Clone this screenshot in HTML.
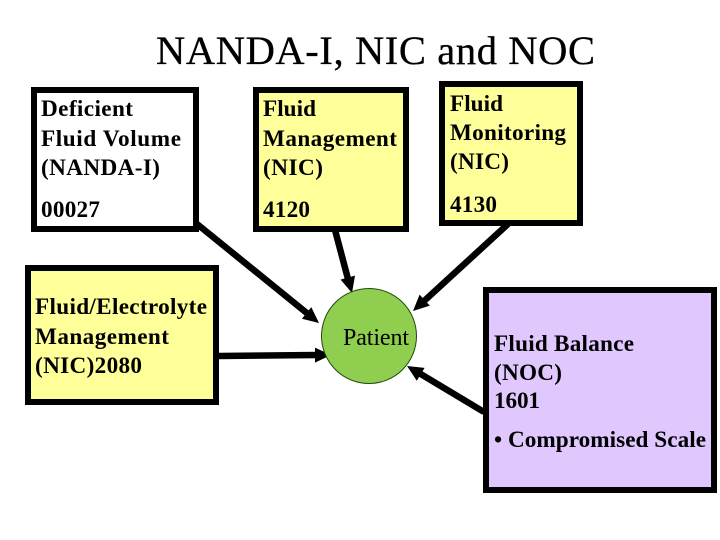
<!DOCTYPE html>
<html>
<head>
<meta charset="utf-8">
<style>
html,body{margin:0;padding:0;background:#fff}
svg{display:block}
text{font-family:"Liberation Serif",serif;fill:#000}
.b{font-weight:bold;font-size:23.2px}
</style>
</head>
<body>
<svg width="720" height="540" viewBox="0 0 720 540" xmlns="http://www.w3.org/2000/svg">
<rect width="720" height="540" fill="#fff"/>
<text x="156" y="64" font-size="40.5" stroke="#000" stroke-width="0.3" textLength="439" lengthAdjust="spacing">NANDA-I, NIC and NOC</text>

<g stroke="#000" stroke-width="6.5">
<line x1="197" y1="224" x2="308" y2="314"/>
<line x1="335" y1="230" x2="348" y2="279"/>
<line x1="508" y1="224" x2="423" y2="302"/>
<line x1="219" y1="356" x2="317" y2="355"/>
<line x1="484" y1="412" x2="419" y2="373"/>
</g>
<g fill="#000">
<polygon points="319,323 301.900,318.700 311.300,307.100"/>
<polygon points="352,293 340.600,279.600 355,275.600"/>
<polygon points="413,311 429.800,305.600 419.600,294.600"/>
<polygon points="331,355 315,347.600 315,362.600"/>
<polygon points="407,366 424.600,367.900 416.800,380.700"/>
</g>
<g stroke="#000" stroke-width="6">
<rect x="34" y="90" width="162" height="139" fill="#fff"/>
<rect x="256" y="90" width="150" height="139" fill="#ffff99"/>
<rect x="442" y="84" width="138" height="139" fill="#ffff99"/>
<rect x="28" y="268" width="188" height="134" fill="#ffff99"/>
<rect x="486" y="290" width="228" height="200" fill="#e0c8ff"/>
</g>
<circle cx="369" cy="336" r="47.500" fill="#8fce4f" stroke="#1f4a10" stroke-width="1"/>

<text class="b" x="41" y="116" textLength="92" lengthAdjust="spacing">Deficient</text>
<text class="b" x="41" y="146" textLength="140" lengthAdjust="spacing">Fluid Volume</text>
<text class="b" x="41" y="175" textLength="119" lengthAdjust="spacing">(NANDA-I)</text>
<text class="b" x="41" y="217" textLength="59" lengthAdjust="spacing">00027</text>

<text class="b" x="263" y="116" textLength="53" lengthAdjust="spacing">Fluid</text>
<text class="b" x="263" y="146" textLength="134" lengthAdjust="spacing">Management</text>
<text class="b" x="263" y="175" textLength="60" lengthAdjust="spacing">(NIC)</text>
<text class="b" x="263" y="217" textLength="47" lengthAdjust="spacing">4120</text>

<text class="b" x="450" y="111" textLength="53" lengthAdjust="spacing">Fluid</text>
<text class="b" x="450" y="140" textLength="116" lengthAdjust="spacing">Monitoring</text>
<text class="b" x="450" y="169" textLength="59" lengthAdjust="spacing">(NIC)</text>
<text class="b" x="450" y="212" textLength="47" lengthAdjust="spacing">4130</text>

<text class="b" x="35" y="314" textLength="172" lengthAdjust="spacing">Fluid/Electrolyte</text>
<text class="b" x="35" y="344" textLength="134" lengthAdjust="spacing">Management</text>
<text class="b" x="35" y="373" textLength="107" lengthAdjust="spacing">(NIC)2080</text>

<text class="b" x="494" y="351" textLength="140" lengthAdjust="spacing">Fluid Balance</text>
<text class="b" x="494" y="380" textLength="68" lengthAdjust="spacing">(NOC)</text>
<text class="b" x="494" y="408" textLength="46" lengthAdjust="spacing">1601</text>
<text class="b" x="494" y="447" textLength="212" lengthAdjust="spacing">• Compromised Scale</text>

<text x="343" y="345" font-size="24" textLength="66" lengthAdjust="spacing">Patient</text>
</svg>
</body>
</html>
